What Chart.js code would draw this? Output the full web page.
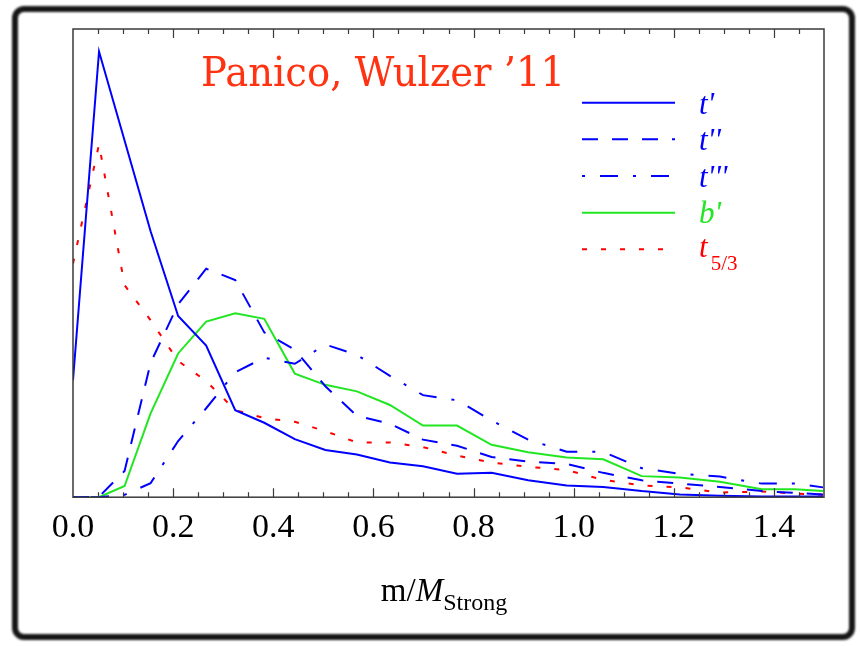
<!DOCTYPE html>
<html>
<head>
<meta charset="utf-8">
<script src="https://cdn.jsdelivr.net/npm/chart.js@4.4.1/dist/chart.umd.min.js"></script>
<style>
html, body { margin: 0; padding: 0; background: #fff; }
#wrap { position: relative; width: 861px; height: 646px; overflow: hidden; }
#chart { position: absolute; left: 0; top: 0; }
.frame { position: absolute; left: 12px; top: 6px; width: 831px; height: 622px;
         border: 6px solid #161616; border-radius: 12px; filter: blur(1.2px); }
.txt { position: absolute; white-space: nowrap; line-height: 1; }
#title { left: 201px; top: 52px; font-family: "DejaVu Serif"; font-size: 41px; color: #ff3311; transform-origin: 0 0; }
.leg { left: 699px; font-family: "Liberation Serif"; font-style: italic; font-size: 31px; }
.leg sub { font-style: normal; font-size: 21px; vertical-align: baseline; position: relative; top: 13px; margin-left: 3px; }
#xtitle { left: 444px; top: 574px; transform: translateX(-50%); font-family: "Liberation Serif"; font-size: 33px; color: #000; }
#xtitle i { font-style: italic; }
#xtitle sub { font-size: 24px; vertical-align: baseline; position: relative; top: 9px; }
</style>
</head>
<body>
<div id="wrap">
  <canvas id="chart" width="861" height="646"></canvas>
  <div class="frame"></div>
  <div class="txt" id="title">Panico, Wulzer ’11</div>
  <div class="txt leg" style="top:88px;color:#0000ff">t'</div>
  <div class="txt leg" style="top:124px;color:#0000ff">t''</div>
  <div class="txt leg" style="top:161px;color:#0000ff">t'''</div>
  <div class="txt leg" style="top:197px;color:#22e622">b'</div>
  <div class="txt leg" style="top:231px;color:#ff0000">t<sub>5/3</sub></div>
  <div class="txt" id="xtitle">m/<i>M</i><sub>Strong</sub></div>
</div>
<script>
// valori (asse y senza etichette, scala 0-100 = altezza del riquadro)
const xVals = [0, 0.052, 0.103, 0.155, 0.210, 0.266, 0.324, 0.382, 0.443, 0.504, 0.567, 0.633,
               0.699, 0.767, 0.836, 0.909, 0.986, 1.059, 1.136, 1.212, 1.292, 1.376, 1.442, 1.498];
const tPrime  = [25.0, 95.2, 76.2, 56.8, 38.7, 32.4, 18.6, 15.9, 12.4, 10.1, 9.1, 7.4,
                 6.6, 5.0, 5.2, 3.6, 2.5, 2.2, 1.3, 0.6, 0.3, 0.15, 0.15, 0.15];
const t2Prime = [0, 0.1, 5.6, 28.7, 41.2, 48.8, 46.4, 35.2, 31.5, 23.7, 17.4, 15.7,
                 12.3, 11.0, 8.6, 7.6, 7.1, 5.2, 3.6, 2.9, 2.2, 1.3, 0.9, 0.6];
const t3Prime = [0, 0, 0.5, 3.0, 12.0, 19.0, 26.7, 29.8, 28.5, 32.6, 30.4, 25.9,
                 21.8, 20.7, 16.4, 12.3, 9.7, 9.7, 6.2, 5.0, 4.4, 2.9, 2.9, 2.1];
const bPrime  = [0, 0, 2.4, 17.9, 30.7, 37.5, 39.3, 38.1, 26.4, 24.0, 22.6, 19.7,
                 15.3, 15.3, 11.2, 9.6, 8.5, 8.1, 4.5, 4.2, 3.3, 1.7, 1.7, 1.3];
const t53     = [49.9, 75.4, 45.3, 37.8, 29.1, 24.8, 18.6, 16.9, 16.1, 14.1, 11.7, 11.7,
                 10.7, 8.9, 7.4, 6.5, 5.8, 3.7, 2.5, 2.1, 1.0, 1.2, 0.8, 0.5];
const xTicks = [0, 0.2, 0.4, 0.6, 0.8, 1.0, 1.2, 1.4];

const toPoints = arr => xVals.map((x, i) => ({ x: x, y: arr[i] }));

const data = {
    datasets: [{
        label: "t'",
        data: toPoints(tPrime),
        borderColor: '#0000ff',
        borderWidth: 2
    },{
        label: "t''",
        data: toPoints(t2Prime),
        borderColor: '#0000ff',
        borderWidth: 2,
        borderDash: [16, 14]
    },{
        label: "t'''",
        data: toPoints(t3Prime),
        borderColor: '#0000ff',
        borderWidth: 2,
        borderDash: [3, 15, 18, 15]
    },{
        label: "b'",
        data: toPoints(bPrime),
        borderColor: '#22e622',
        borderWidth: 2
    },{
        label: 't5/3',
        data: toPoints(t53),
        borderColor: '#ff0000',
        borderWidth: 2,
        borderDash: [5, 14]
    }]
};

// riquadro con tacche verso l'interno + campioni della legenda
const legendY = [102.7, 139.3, 176, 212.7, 249.3];
const frameTicks = {
    id: 'frameTicks',
    afterDatasetsDraw(chart) {
        const { ctx, chartArea: a, scales: { x } } = chart;
        ctx.save();
        ctx.strokeStyle = '#3a3a3a';
        ctx.lineWidth = 1.5;
        ctx.strokeRect(a.left, a.top, a.right - a.left, a.bottom - a.top);
        ctx.lineWidth = 1.2;
        for (let k = 1; k < 30; k++) {
            const v = k * 0.05;
            const px = Math.round(x.getPixelForValue(v)) + 0.5;
            const len = (k % 4 === 0) ? 9 : 5;
            ctx.beginPath();
            ctx.moveTo(px, a.bottom); ctx.lineTo(px, a.bottom - len);
            ctx.moveTo(px, a.top); ctx.lineTo(px, a.top + len);
            ctx.stroke();
        }
        chart.data.datasets.forEach((ds, i) => {
            ctx.strokeStyle = ds.borderColor;
            ctx.lineWidth = ds.borderWidth;
            ctx.setLineDash(ds.borderDash || []);
            ctx.beginPath();
            ctx.moveTo(582, legendY[i]);
            ctx.lineTo(675, legendY[i]);
            ctx.stroke();
        });
        ctx.restore();
    }
};

const config = {
    type: 'line',
    data,
    options: {
        responsive: false,
        animation: false,
        devicePixelRatio: 1,
        layout: { padding: { left: 73, right: 37, top: 29, bottom: 88 } },
        elements: {
            point: { radius: 0 },
            line: { tension: 0, fill: false }
        },
        plugins: {
            legend: { display: false },
            tooltip: { enabled: false }
        },
        scales: {
            x: {
                type: 'linear',
                min: 0,
                max: 1.5,
                grid: { display: false, drawTicks: false },
                border: { display: false },
                afterBuildTicks: s => { s.ticks = xTicks.map(v => ({ value: v })); },
                ticks: {
                    padding: 10,
                    color: '#000',
                    font: { family: 'Liberation Serif', size: 34 },
                    callback: v => v.toFixed(1)
                }
            },
            y: {
                display: false,
                min: 0,
                max: 100
            }
        }
    },
    plugins: [frameTicks]
};

const myChart = new Chart(document.getElementById('chart'), config);

// comprime il titolo alla larghezza dell'originale
const title = document.getElementById('title');
const w = title.getBoundingClientRect().width;
title.style.transform = 'scaleX(' + (364 / w) + ')';
console.log(myChart.chartArea);
</script>
</body>
</html>
